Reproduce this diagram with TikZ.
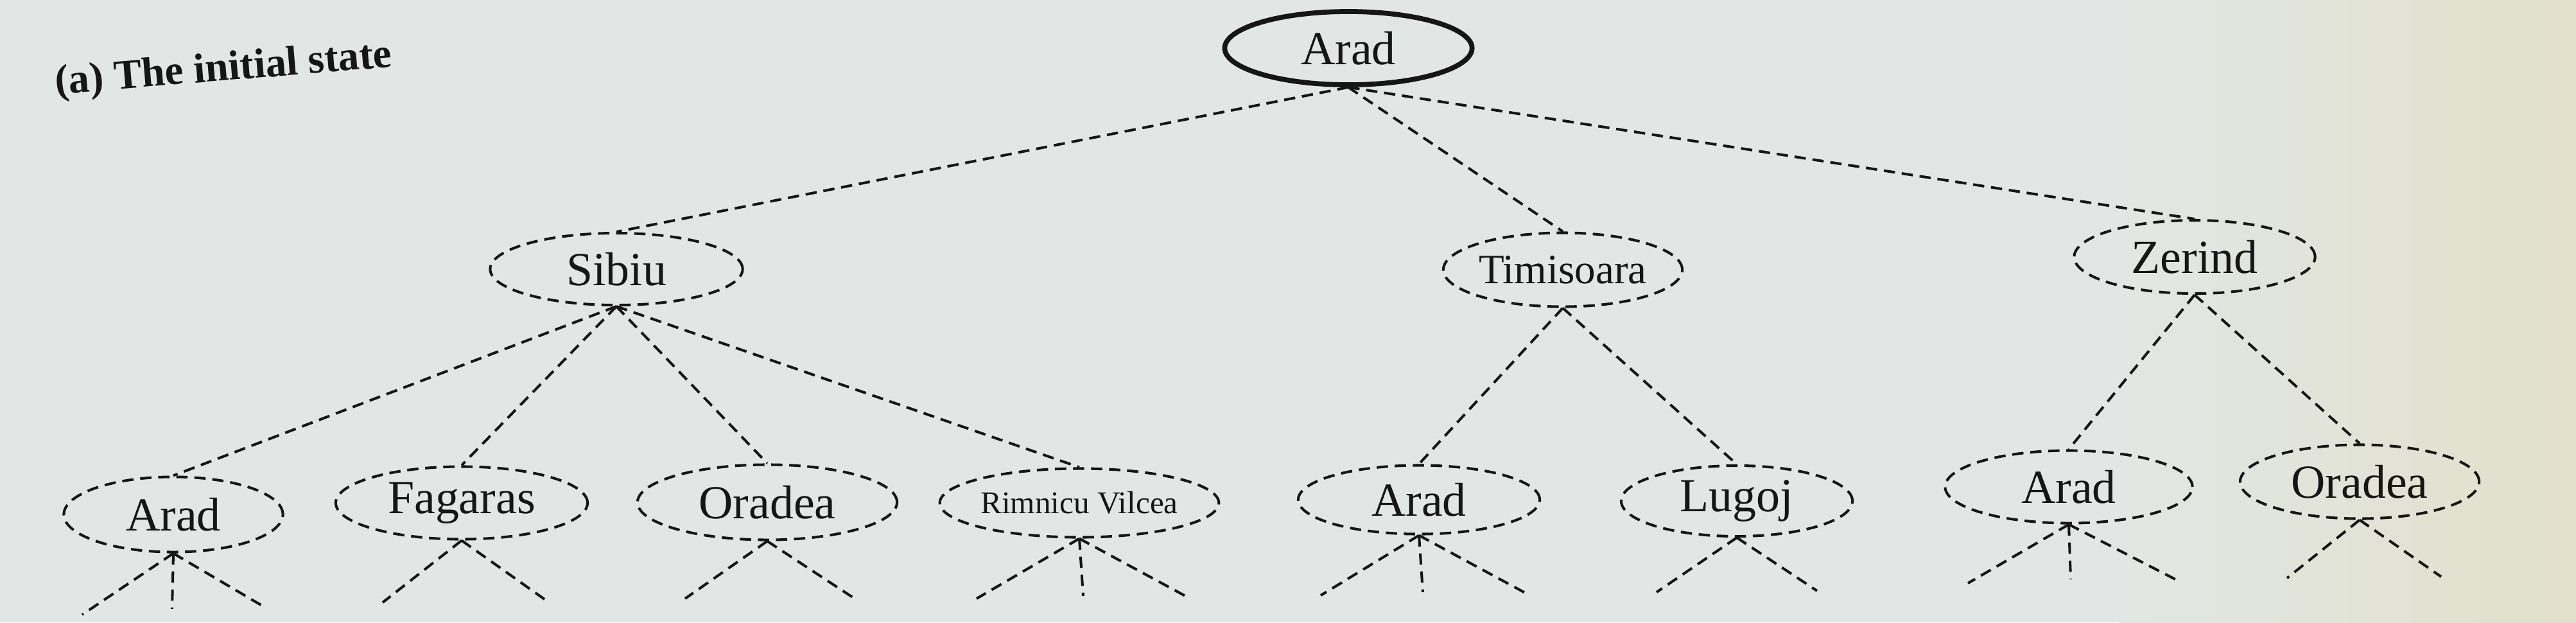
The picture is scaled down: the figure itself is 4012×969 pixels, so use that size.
\documentclass[tikz,border=0pt]{standalone}
\usepackage{fontspec}
\setmainfont{Liberation Serif}
\usetikzlibrary{shapes.geometric}
\definecolor{paper}{RGB}{226,231,229}
\definecolor{paperr}{RGB}{226,224,202}
\definecolor{ink}{RGB}{22,22,22}
\begin{document}
\begin{tikzpicture}[x=0.01cm,y=-0.01cm,
  city/.style={ellipse, draw=ink, line width=1.15pt, dash pattern=on 5pt off 3pt,
    inner sep=0pt, font=\fontsize{21}{24}\selectfont, text=ink},
  rootcity/.style={ellipse, draw=ink, line width=2.2pt, inner sep=0pt,
    font=\fontsize{21}{24}\selectfont, text=ink},
  link/.style={draw=ink, line width=1.15pt, dash pattern=on 5pt off 3pt},
]
\useasboundingbox (0,0) rectangle (4012,969);
\fill[paper] (0,0) rectangle (4012,969);
\shade[left color=paper, right color=paperr] (3300,0) rectangle (4012,969);

\node[anchor=base west, rotate=4.7, font=\bfseries\fontsize{18.5}{22}\selectfont, text=ink]
  (title) at (75,148) {(a) The initial state};

% level 0
\node[rootcity, minimum width=3.85cm, minimum height=1.14cm] (root) at (2100,75) {Arad};
% level 1
\node[city, minimum width=3.93cm, minimum height=1.12cm] (sibiu) at (960,419) {Sibiu};
\node[city, minimum width=3.72cm, minimum height=1.15cm, font=\fontsize{18.5}{22}\selectfont] (timi) at (2434,420) {Timisoara};
\node[city, minimum width=3.75cm, minimum height=1.14cm] (zerind) at (3418,400) {Zerind};
% level 2
\node[city, minimum width=3.41cm, minimum height=1.17cm] (arad1) at (270,801) {Arad};
\node[city, minimum width=3.92cm, minimum height=1.13cm] (fagaras) at (719,783) {Fagaras};
\node[city, minimum width=4.04cm, minimum height=1.17cm] (oradea1) at (1195,782) {Oradea};
\node[city, minimum width=3.89cm, minimum height=1.07cm, font=\fontsize{14}{16}\selectfont] (rimnicu) at (1681,783) {Rimnicu Vilcea};
\node[city, minimum width=3.76cm, minimum height=1.07cm] (arad2) at (2210,778) {Arad};
\node[city, minimum width=3.60cm, minimum height=1.10cm] (lugoj) at (2705,780) {Lugoj};
\node[city, minimum width=3.85cm, minimum height=1.13cm] (arad3) at (3222,758) {Arad};
\node[city, minimum width=3.72cm, minimum height=1.15cm] (oradea3) at (3675,750) {Oradea};

% edges
\draw[link] (root.south) -- (sibiu.north);
\draw[link] (root.south) -- (timi.north);
\draw[link] (root.south) -- (zerind.north);
\draw[link] (sibiu.south) -- (arad1.north);
\draw[link] (sibiu.south) -- (fagaras.north);
\draw[link] (sibiu.south) -- (oradea1.north);
\draw[link] (sibiu.south) -- (rimnicu.north);
\draw[link] (timi.south) -- (arad2.north);
\draw[link] (timi.south) -- (lugoj.north);
\draw[link] (zerind.south) -- (arad3.north);
\draw[link] (zerind.south) -- (oradea3.north);

% stubs
\coordinate (a1l) at (128,957); \coordinate (a1m) at (268,948); \coordinate (a1r) at (415,947);
\coordinate (fl) at (596,938); \coordinate (fr) at (848,933);
\coordinate (o1l) at (1067,932); \coordinate (o1r) at (1328,930);
\coordinate (rl) at (1521,932); \coordinate (rm) at (1687,928); \coordinate (rr) at (1850,930);
\coordinate (a2l) at (2057,927); \coordinate (a2m) at (2216,922); \coordinate (a2r) at (2379,925);
\coordinate (ll) at (2580,922); \coordinate (lr) at (2830,920);
\coordinate (a3l) at (3065,908); \coordinate (a3m) at (3225,902); \coordinate (a3r) at (3390,903);
\coordinate (o3l) at (3562,900); \coordinate (o3r) at (3802,898);

\foreach \n/\e in {arad1/a1l, arad1/a1m, arad1/a1r, fagaras/fl, fagaras/fr,
  oradea1/o1l, oradea1/o1r, rimnicu/rl, rimnicu/rm, rimnicu/rr,
  arad2/a2l, arad2/a2m, arad2/a2r, lugoj/ll, lugoj/lr,
  arad3/a3l, arad3/a3m, arad3/a3r, oradea3/o3l, oradea3/o3r}
  \draw[link] (\n.south) -- (\e);
\end{tikzpicture}
\end{document}
